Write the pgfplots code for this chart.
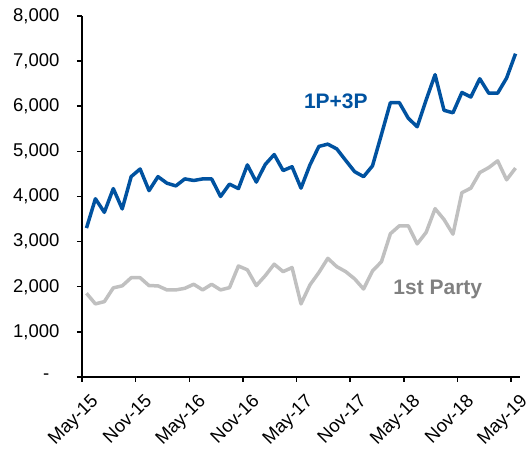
\documentclass[border=0pt]{standalone}
\usepackage{fontspec}
\setmainfont{Liberation Sans}
\usepackage{pgfplots}
\pgfplotsset{compat=1.18}
\usetikzlibrary{calc}
\definecolor{totalblue}{RGB}{0,82,160}
\definecolor{firstgray}{RGB}{192,192,192}
\definecolor{labelgray}{RGB}{128,128,128}

\pgfplotstableread{
x total first
0.5 3300 1855
1.5 3950 1620
2.5 3650 1670
3.5 4175 1975
4.5 3725 2020
5.5 4440 2200
6.5 4610 2200
7.5 4130 2025
8.5 4440 2020
9.5 4295 1930
10.5 4235 1930
11.5 4390 1965
12.5 4355 2055
13.5 4390 1930
14.5 4390 2055
15.5 4000 1930
16.5 4275 1980
17.5 4175 2460
18.5 4700 2375
19.5 4320 2025
20.5 4710 2245
21.5 4930 2500
22.5 4575 2335
23.5 4660 2425
24.5 4185 1620
25.5 4700 2040
26.5 5110 2315
27.5 5160 2630
28.5 5055 2445
29.5 4800 2335
30.5 4550 2175
31.5 4440 1950
32.5 4680 2350
33.5 5375 2555
34.5 6080 3175
35.5 6080 3350
36.5 5735 3350
37.5 5545 2950
38.5 6140 3205
39.5 6700 3730
40.5 5910 3490
41.5 5855 3165
42.5 6305 4085
43.5 6205 4185
44.5 6610 4530
45.5 6290 4640
46.5 6290 4790
47.5 6625 4370
48.5 7165 4630
}\sales

\begin{document}
\begin{tikzpicture}
\begin{axis}[
    name=ax,
    scale only axis,
    width=438pt, height=361pt,
    xmin=0, xmax=49,
    ymin=0, ymax=8000,
    axis x line*=bottom,
    axis y line*=left,
    axis line style={-, line width=1.5pt, black},
    tick style={line width=1.5pt, black},
    tick align=outside,
    major tick length=5pt,
    xtick={0,6,...,48},
    xticklabels={May-15,Nov-15,May-16,Nov-16,May-17,Nov-17,May-18,Nov-18,May-19},
    ytick={0,1000,...,8000},
    yticklabels={-\hphantom{0},{1,000},{2,000},{3,000},{4,000},{5,000},{6,000},{7,000},{8,000}},
    tick label style={font=\fontsize{18.5}{20}\selectfont},
    yticklabel style={anchor=east, xshift=-14pt},
    xticklabel style={xshift=8pt, yshift=-6pt, rotate=45, anchor=north east},
    clip=false,
]
\addplot[totalblue, line width=3.5pt, line join=round] table[x=x, y=total] {\sales};
\addplot[firstgray, line width=3.5pt, line join=round] table[x=x, y=first] {\sales};
\node[text=totalblue, font=\bfseries\fontsize{21}{24}\selectfont] at (axis cs:28.4,6120) {1P+3P};
\node[text=labelgray, font=\bfseries\fontsize{21}{24}\selectfont] at (axis cs:39.8,1950) {1st Party};
\end{axis}
\pgfresetboundingbox
\path[use as bounding box] ($(ax.south west)+(-82pt,-72pt)$) rectangle ($(ax.north east)+(7pt,16pt)$);
\end{tikzpicture}
\end{document}
